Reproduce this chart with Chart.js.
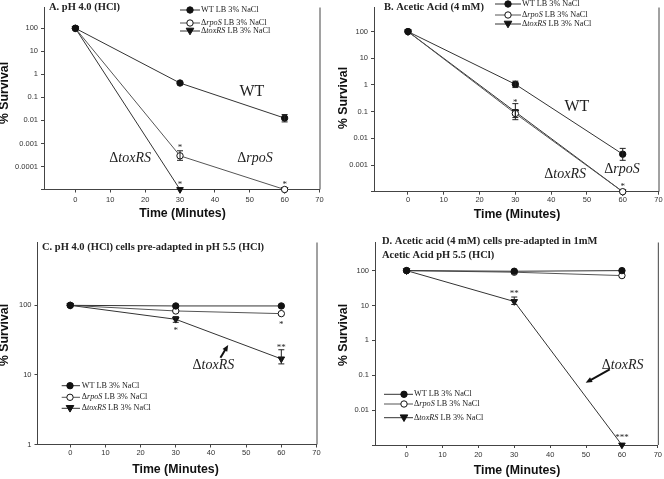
<!DOCTYPE html>
<html>
<head>
<meta charset="utf-8">
<script src="https://cdn.jsdelivr.net/npm/chart.js@4.4.0/dist/chart.umd.min.js"></script>
<style>
html, body { margin: 0; padding: 0; background: #fff; }
#wrap { position: relative; width: 664px; height: 479px; overflow: hidden; }
canvas { position: absolute; }
</style>
</head>
<body>
<div id="wrap">
  <canvas id="pA"></canvas>
  <canvas id="pB"></canvas>
  <canvas id="pC"></canvas>
  <canvas id="pD"></canvas>
</div>
<script>
// ---- data ----
const TIMES = [0, 30, 60];
const X_TICKS = [0, 10, 20, 30, 40, 50, 60, 70];

// A. pH 4.0 (HCl)
const A_WT = [100, 0.42, 0.0126];
const A_WT_LO = [null, null, 0.0086];
const A_WT_HI = [null, null, 0.018];
const A_RPOS = [100, 0.00029, 0.00001];
const A_RPOS_LO = [null, 0.000185, null];
const A_RPOS_HI = [null, 0.00048, null];
const A_TOXRS = [100, 0.00001, 0.00001];
const A_YTICKS = [0.00001, 0.0001, 0.001, 0.01, 0.1, 1, 10, 100];
const A_YLABELS = ['', '0.0001', '0.001', '0.01', '0.1', '1', '10', '100'];

// B. Acetic Acid (4 mM)
const B_WT = [100, 1.06, 0.00255];
const B_WT_LO = [null, 0.8, 0.0015];
const B_WT_HI = [null, 1.39, 0.0042];
const B_RPOS = [100, 0.085, 0.0001];
const B_RPOS_LO = [null, 0.05, null];
const B_RPOS_HI = [null, 0.12, null];
const B_TOXRS = [100, 0.098, 0.0001];
const B_TOXRS_LO = [null, 0.06, null];
const B_TOXRS_HI = [null, 0.2, null];
const B_YTICKS = [0.0001, 0.001, 0.01, 0.1, 1, 10, 100];
const B_YLABELS = ['', '0.001', '0.01', '0.1', '1', '10', '100'];

// C. pH 4.0 pre-adapted
const C_WT = [100, 98, 98];
const C_RPOS = [100, 83, 76];
const C_TOXRS = [100, 63, 17];
const C_TOXRS_LO = [null, 57, 14.4];
const C_TOXRS_HI = [null, 69, 23];
const C_YTICKS = [1, 10, 100];
const C_YLABELS = ['1', '10', '100'];

// D. Acetic acid pre-adapted
const D_WT = [100, 96, 100];
const D_RPOS = [100, 90, 72];
const D_TOXRS = [100, 13, 0.001];
const D_TOXRS_LO = [null, 10.7, null];
const D_TOXRS_HI = [null, 17.5, null];
const D_YTICKS = [0.001, 0.01, 0.1, 1, 10, 100];
const D_YLABELS = ['', '0.01', '0.1', '1', '10', '100'];

// significance marks [x, y, text]
const A_STARS = [[30, 0.0008, '*'], [30, 0.000021, '*'], [60, 0.000021, '*']];
const B_STARS = [[30, 0.265, '*'], [60, 0.00019, '*']];
const C_STARS = [[30, 47, '*'], [60, 57, '*'], [60, 26.4, '**']];
const D_STARS = [[30, 25, '**'], [60, 0.0019, '***']];

// in-plot labels [x, y, text, italic part]
const A_NOTES = [[50.6, 0.171, 'WT', ''], [15.7, 0.000226, 'Δ', 'toxRS'], [51.5, 0.000226, 'Δ', 'rpoS']];
const B_NOTES = [[47.2, 0.156, 'WT', ''], [59.8, 0.00071, 'Δ', 'rpoS'], [43.9, 0.00043, 'Δ', 'toxRS']];
const C_NOTES = [[40.7, 13.8, 'Δ', 'toxRS']];
const D_NOTES = [[60.2, 0.19, 'Δ', 'toxRS']];

// arrows [x0, y0, x1, y1] (head at x1,y1)
const C_ARROWS = [[42.7, 17.6, 44.9, 27]];
const D_ARROWS = [[56.6, 0.147, 49.9, 0.061]];

// ---- styles ----
const SERIF = "'Liberation Serif', 'Times New Roman', serif";
const SANS = "'Liberation Sans', Arial, sans-serif";
const INK = '#222';
const SERIES_STYLE = [
    { name: 'WT', it: '', fill: '#111', line: '#333', shape: 'circle' },
    { name: 'Δ', it: 'rpoS', fill: '#fff', line: '#555', shape: 'circle' },
    { name: 'Δ', it: 'toxRS', fill: '#111', line: '#333', shape: 'tri' }
];

function drawMarker(ctx, shape, fill, x, y) {
    ctx.save();
    ctx.fillStyle = fill;
    ctx.strokeStyle = '#111';
    ctx.lineWidth = 1;
    ctx.beginPath();
    if (shape === 'tri') {
        ctx.moveTo(x - 3.8, y - 2.8);
        ctx.lineTo(x + 3.8, y - 2.8);
        ctx.lineTo(x, y + 3.8);
        ctx.closePath();
    } else {
        ctx.arc(x, y, 3.2, 0, Math.PI * 2);
    }
    ctx.fill();
    ctx.stroke();
    ctx.restore();
}

// text with an upright part and an italic part
function drawRich(ctx, plain, ital, rest, x, y, size, align) {
    ctx.save();
    ctx.textBaseline = 'middle';
    ctx.fillStyle = INK;
    const fN = size + 'px ' + SERIF;
    const fI = 'italic ' + size + 'px ' + SERIF;
    ctx.font = fN; const w1 = ctx.measureText(plain).width; const w3 = ctx.measureText(rest).width;
    ctx.font = fI; const w2 = ctx.measureText(ital).width;
    let cx = align === 'center' ? x - (w1 + w2 + w3) / 2 : x;
    ctx.textAlign = 'left';
    ctx.font = fN; ctx.fillText(plain, cx, y); cx += w1;
    ctx.font = fI; ctx.fillText(ital, cx, y); cx += w2;
    ctx.font = fN; ctx.fillText(rest, cx, y);
    ctx.restore();
}

function errorBar(ctx, x, yl, yh) {
    ctx.save();
    ctx.strokeStyle = '#222';
    ctx.lineWidth = 1;
    ctx.beginPath();
    ctx.moveTo(x, yl); ctx.lineTo(x, yh);
    ctx.moveTo(x - 3, yl); ctx.lineTo(x + 3, yl);
    ctx.moveTo(x - 3, yh); ctx.lineTo(x + 3, yh);
    ctx.stroke();
    ctx.restore();
}

function buildPanel(p) {
    const cv = document.getElementById(p.id);
    cv.width = p.box.w; cv.height = p.box.h;
    cv.style.left = p.box.x + 'px'; cv.style.top = p.box.y + 'px';
    const ox = p.box.x, oy = p.box.y;

    const datasets = p.series.map((vals, k) => {
        const st = SERIES_STYLE[k];
        return {
            data: TIMES.map((t, i) => ({ x: t, y: vals[i] })),
            borderColor: st.line,
            borderWidth: 1,
            pointStyle: st.shape === 'tri' ? 'triangle' : 'circle',
            pointRotation: st.shape === 'tri' ? 180 : 0,
            pointRadius: st.shape === 'tri' ? 3.8 : 3.2,
            pointBackgroundColor: st.fill,
            pointBorderColor: '#111',
            pointBorderWidth: 1,
            tension: 0,
            clip: false
        };
    });

    const overlay = {
        id: 'overlay',
        afterDatasetsDraw(chart) {
            const ctx = chart.ctx;
            const xs = chart.scales.x, ys = chart.scales.y;
            const a = chart.chartArea;

            // right frame line
            ctx.save();
            ctx.strokeStyle = '#444';
            ctx.lineWidth = 1;
            ctx.beginPath();
            ctx.moveTo(a.right + 0.5, a.top);
            ctx.lineTo(a.right + 0.5, a.bottom);
            ctx.stroke();
            ctx.restore();

            // error bars
            p.errors.forEach(([lo, hi]) => {
                TIMES.forEach((t, i) => {
                    if (lo[i] == null) return;
                    errorBar(ctx, xs.getPixelForValue(t), ys.getPixelForValue(lo[i]), ys.getPixelForValue(hi[i]));
                });
            });

            // stars
            ctx.save();
            ctx.fillStyle = INK;
            ctx.font = '9px ' + SERIF;
            ctx.textAlign = 'center';
            ctx.textBaseline = 'alphabetic';
            p.stars.forEach(([x, y, s]) => {
                ctx.fillText(s, xs.getPixelForValue(x), ys.getPixelForValue(y) + 4.5);
            });
            ctx.restore();

            // labels in plot
            p.notes.forEach(([x, y, t, it]) => {
                const size = t === 'WT' ? 16 : 14;
                drawRich(ctx, t, it, '', xs.getPixelForValue(x), ys.getPixelForValue(y), size, 'center');
            });

            // arrows
            p.arrows.forEach(([x0, y0, x1, y1]) => {
                const X0 = xs.getPixelForValue(x0), Y0 = ys.getPixelForValue(y0);
                const X1 = xs.getPixelForValue(x1), Y1 = ys.getPixelForValue(y1);
                const ang = Math.atan2(Y1 - Y0, X1 - X0);
                ctx.save();
                ctx.strokeStyle = '#111';
                ctx.fillStyle = '#111';
                ctx.lineWidth = 2;
                ctx.beginPath();
                ctx.moveTo(X0, Y0);
                ctx.lineTo(X1 - 4 * Math.cos(ang), Y1 - 4 * Math.sin(ang));
                ctx.stroke();
                ctx.beginPath();
                ctx.moveTo(X1, Y1);
                ctx.lineTo(X1 - 7 * Math.cos(ang - 0.4), Y1 - 7 * Math.sin(ang - 0.4));
                ctx.lineTo(X1 - 7 * Math.cos(ang + 0.4), Y1 - 7 * Math.sin(ang + 0.4));
                ctx.closePath();
                ctx.fill();
                ctx.restore();
            });

            // panel title
            ctx.save();
            ctx.fillStyle = INK;
            ctx.font = 'bold 10.5px ' + SERIF;
            ctx.textBaseline = 'middle';
            ctx.textAlign = 'left';
            p.title.forEach(([t, x, y]) => ctx.fillText(t, x - ox, y - oy));
            ctx.restore();

            // legend
            const lg = p.legend;
            SERIES_STYLE.forEach((st, k) => {
                const y = lg.ys[k] - oy;
                ctx.save();
                ctx.strokeStyle = st.line;
                ctx.lineWidth = 1;
                ctx.beginPath();
                ctx.moveTo(lg.x0 - ox, y);
                ctx.lineTo(lg.x1 - ox, y);
                ctx.stroke();
                ctx.restore();
                drawMarker(ctx, st.shape, st.fill, lg.mx - ox, y);
                drawRich(ctx, st.name, st.it, ' LB 3% NaCl', lg.tx - ox, y, 8.2, 'left');
            });

            // axis titles
            ctx.save();
            ctx.fillStyle = '#111';
            ctx.font = 'bold 12.3px ' + SANS;
            ctx.textAlign = 'center';
            ctx.textBaseline = 'middle';
            ctx.fillText('Time (Minutes)', p.xTitle[0] - ox, p.xTitle[1] - oy);
            ctx.translate(p.yTitle[0] - ox, p.yTitle[1] - oy);
            ctx.rotate(-Math.PI / 2);
            ctx.fillText('% Survival', 0, 0);
            ctx.restore();
        }
    };

    new Chart(cv, {
        type: 'line',
        data: { datasets },
        options: {
            responsive: false,
            animation: false,
            events: [],
            layout: {
                autoPadding: false,
                padding: { top: p.area.top - oy, right: ox + p.box.w - p.area.right, left: 0, bottom: 0 }
            },
            plugins: { legend: { display: false }, tooltip: { enabled: false } },
            scales: {
                x: {
                    type: 'linear',
                    min: p.xMin,
                    max: 70,
                    afterFit: s => { s.height = oy + p.box.h - p.area.bottom; },
                    afterBuildTicks: s => { s.ticks = X_TICKS.map(v => ({ value: v })); },
                    ticks: { color: '#333', font: { family: SANS, size: 7.5 }, padding: p.xPad, maxRotation: 0, autoSkip: false },
                    grid: { display: true, drawOnChartArea: false, drawTicks: true, tickLength: 3, color: '#444' },
                    border: { display: true, color: '#444', width: 1 }
                },
                y: {
                    type: 'logarithmic',
                    min: p.yMin,
                    max: p.yMax,
                    afterFit: s => { s.width = p.area.left - ox; },
                    afterBuildTicks: s => { s.ticks = p.yTicks.map(v => ({ value: v })); },
                    ticks: { color: '#333', font: { family: SANS, size: 7.5 }, padding: 3, autoSkip: false,
                             callback: (v, i) => p.yLabels[i] },
                    grid: { display: true, drawOnChartArea: false, drawTicks: true, tickLength: 3, color: '#444' },
                    border: { display: true, color: '#444', width: 1 }
                }
            }
        },
        plugins: [overlay]
    });
}

buildPanel({
    id: 'pA', box: { x: 0, y: 0, w: 332, h: 235 }, area: { left: 44, right: 319.5, top: 0, bottom: 189.5 },
    xMin: -9, yMin: 0.00001, yMax: 800, xPad: 2.5,
    series: [A_WT, A_RPOS, A_TOXRS],
    errors: [[A_WT_LO, A_WT_HI], [A_RPOS_LO, A_RPOS_HI]],
    yTicks: A_YTICKS, yLabels: A_YLABELS,
    stars: A_STARS, notes: A_NOTES, arrows: [],
    title: [['A. pH 4.0 (HCl)', 49, 7]],
    legend: { x0: 180, x1: 200, mx: 190, tx: 201, ys: [10, 23, 31] },
    xTitle: [182.5, 213.3], yTitle: [4.5, 93]
});

buildPanel({
    id: 'pB', box: { x: 332, y: 0, w: 332, h: 235 }, area: { left: 374, right: 658.5, top: 0, bottom: 191.7 },
    xMin: -9.5, yMin: 0.0001, yMax: 800, xPad: 1,
    series: [B_WT, B_RPOS, B_TOXRS],
    errors: [[B_WT_LO, B_WT_HI], [B_RPOS_LO, B_RPOS_HI], [B_TOXRS_LO, B_TOXRS_HI]],
    yTicks: B_YTICKS, yLabels: B_YLABELS,
    stars: B_STARS, notes: B_NOTES, arrows: [],
    title: [['B. Acetic Acid (4 mM)', 384, 7]],
    legend: { x0: 495, x1: 521, mx: 508, tx: 522, ys: [4, 15, 24] },
    xTitle: [517, 215], yTitle: [343.7, 98]
});

buildPanel({
    id: 'pC', box: { x: 0, y: 235, w: 332, h: 244 }, area: { left: 37.5, right: 316.5, top: 236, bottom: 444.5 },
    xMin: -9.3, yMin: 1, yMax: 800, xPad: 1,
    series: [C_WT, C_RPOS, C_TOXRS],
    errors: [[C_TOXRS_LO, C_TOXRS_HI]],
    yTicks: C_YTICKS, yLabels: C_YLABELS,
    stars: C_STARS, notes: C_NOTES, arrows: C_ARROWS,
    title: [['C. pH 4.0 (HCl) cells pre-adapted in pH 5.5 (HCl)', 42, 247.3]],
    legend: { x0: 61.7, x1: 80, mx: 70, tx: 81.7, ys: [385.7, 397.3, 408.3] },
    xTitle: [175.5, 470], yTitle: [4.5, 335]
});

buildPanel({
    id: 'pD', box: { x: 332, y: 235, w: 332, h: 244 }, area: { left: 375, right: 658, top: 236, bottom: 445 },
    xMin: -8.8, yMin: 0.001, yMax: 640, xPad: 2,
    series: [D_WT, D_RPOS, D_TOXRS],
    errors: [[D_TOXRS_LO, D_TOXRS_HI]],
    yTicks: D_YTICKS, yLabels: D_YLABELS,
    stars: D_STARS, notes: D_NOTES, arrows: D_ARROWS,
    title: [['D. Acetic acid (4 mM) cells pre-adapted in 1mM', 382, 241.7], ['Acetic Acid pH 5.5 (HCl)', 382, 255]],
    legend: { x0: 384, x1: 413, mx: 404, tx: 414, ys: [394.3, 404, 417.7] },
    xTitle: [517, 470.5], yTitle: [343.7, 335]
});
</script>
</body>
</html>
